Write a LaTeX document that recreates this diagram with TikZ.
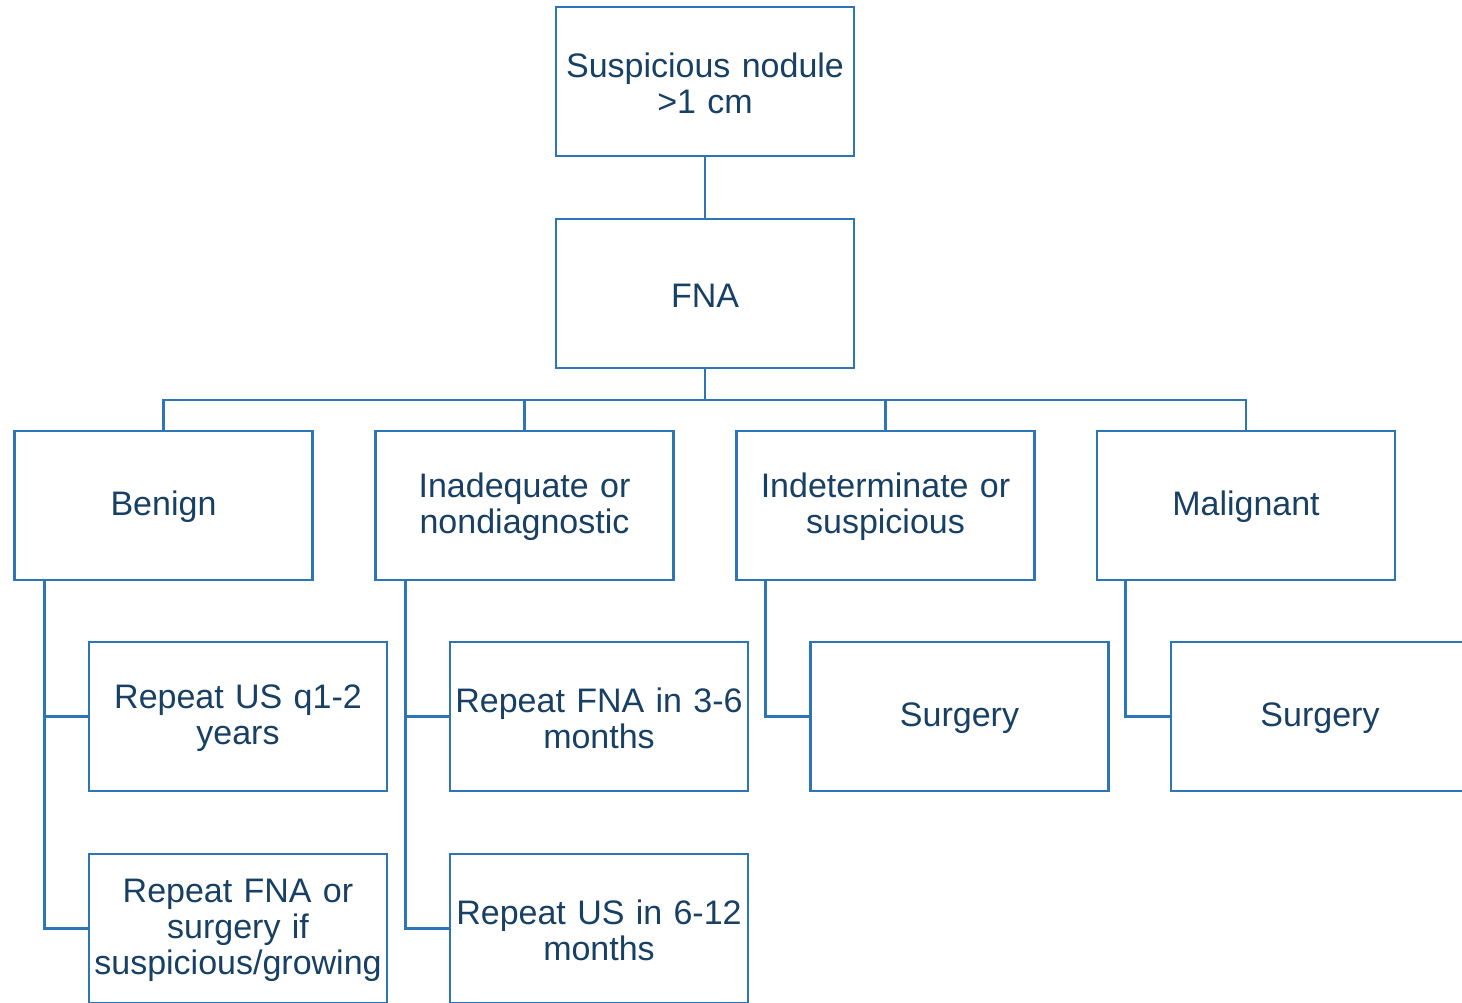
\documentclass[tikz,border=0pt]{standalone}
\usepackage{fontspec}
\setmainfont{Liberation Sans}
\definecolor{boxblue}{RGB}{46,117,182}
\definecolor{txtblue}{RGB}{24,64,100}
\begin{document}
\begin{tikzpicture}[x=1pt,y=-1pt,
  box/.style={draw=boxblue, line width=2.8pt, minimum width=298pt, minimum height=149pt,
    text width=296pt, align=center, inner sep=0pt, text=txtblue,
    font=\fontsize{34}{36}\selectfont,
    execute at begin node={\rule{0pt}{27.5pt}}},
  conn/.style={draw=boxblue, line width=2.8pt}]
\useasboundingbox (0,0) rectangle (1462,1003);
\clip (0,0) rectangle (1462,1003);
% level 0/1
\node[box] (top) at (705,81.5) {Suspicious nodule\\>1 cm};
\node[box] (fna) at (705,293.5) {FNA};
% level 2
\node[box] (ben) at (163.5,505.5) {Benign};
\node[box] (inad) at (524.5,505.5) {Inadequate or\\nondiagnostic};
\node[box] (indet) at (885.5,505.5) {Indeterminate or\\suspicious};
\node[box] (mal) at (1246,505.5) {Malignant};
% level 3
\node[box] (rus) at (238,716.5) {Repeat US q1-2\\years};
\node[box] (rfna) at (599,716.5) {Repeat FNA in 3-6\\months};
\node[box] (surg1) at (959.5,716.5) {Surgery};
\node[box] (surg2) at (1320,716.5) {Surgery};
% level 4
\node[box] (rfnas) at (238,928.5) {Repeat FNA or\\surgery if\\suspicious/growing};
\node[box] (rus2) at (599,928.5) {Repeat US in 6-12\\months};
% connectors
\draw[conn] (top.south) -- (fna.north);
\coordinate (bus) at (705,400);
\draw[conn] (fna.south) -- (bus);
\draw[conn] (bus) -| (ben.north);
\draw[conn] (bus) -| (inad.north);
\draw[conn] (bus) -| (indet.north);
\draw[conn] (bus) -| (mal.north);
\draw[conn] ([xshift=31pt]ben.south west) |- (rus.west);
\draw[conn] ([xshift=31pt]ben.south west) |- (rfnas.west);
\draw[conn] ([xshift=31pt]inad.south west) |- (rfna.west);
\draw[conn] ([xshift=31pt]inad.south west) |- (rus2.west);
\draw[conn] ([xshift=30pt]indet.south west) |- (surg1.west);
\draw[conn] ([xshift=30pt]mal.south west) |- (surg2.west);
\end{tikzpicture}
\end{document}
